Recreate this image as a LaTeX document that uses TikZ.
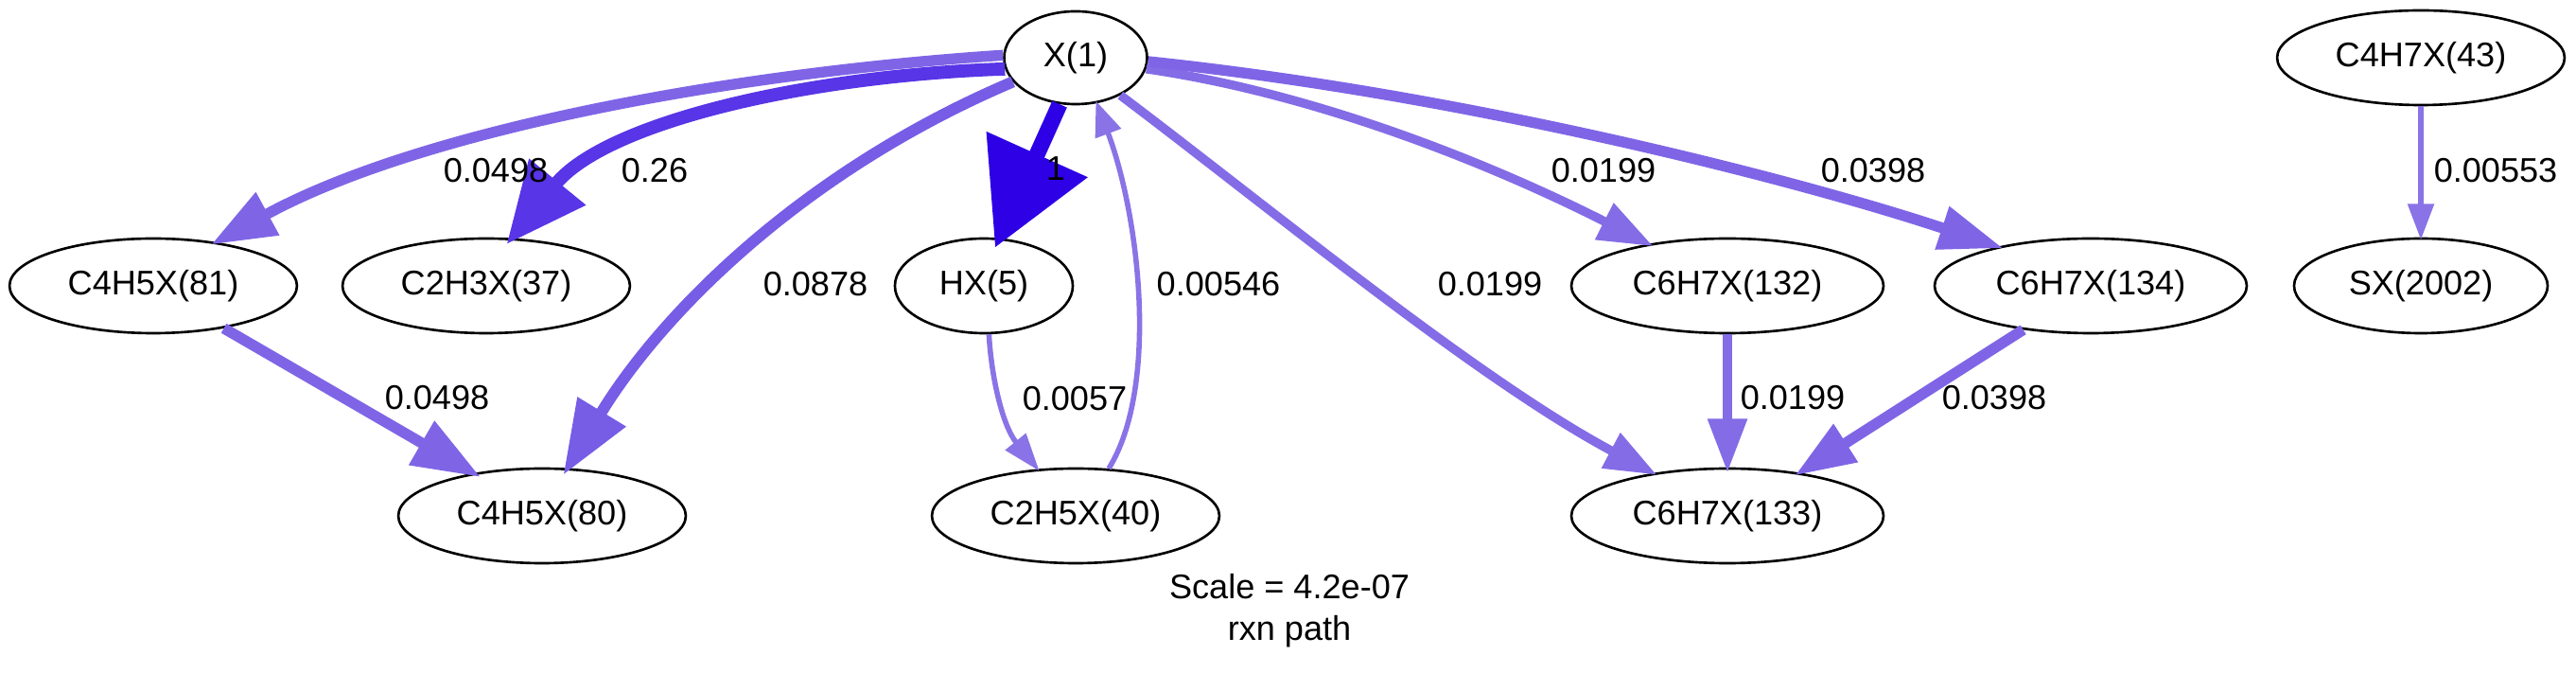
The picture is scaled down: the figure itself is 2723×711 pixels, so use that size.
\documentclass[tikz,border=0pt]{standalone}
\usepackage{fontspec}
\setmainfont{Liberation Sans}
\usetikzlibrary{shapes.geometric,arrows.meta}
\definecolor{cA}{RGB}{46,0,230}
\definecolor{cB}{RGB}{88,53,230}
\definecolor{cC}{RGB}{119,92,230}
\definecolor{cD}{RGB}{127,101,230}
\definecolor{cE}{RGB}{132,108,230}
\definecolor{cF}{RGB}{138,115,230}
\begin{document}
\begin{tikzpicture}[x=0.36pt,y=-0.36pt,
  species/.style={draw, ellipse, line width=0.95pt, inner sep=0pt,
    minimum height=36pt, font=\fontsize{13}{15}\selectfont},
  wide/.style={species, minimum width=109.4pt},
  wider/.style={species, minimum width=118.8pt},
  lbl/.style={inner sep=0pt, font=\fontsize{13}{15}\selectfont},
  fluxedge/.style={line width=#1},
  tipsz/.style 2 args={-{Triangle[length=#1pt,width=#2pt]}}
]
\useasboundingbox (0,0) rectangle (2723,711);

% species
\node[species, minimum width=54.4pt, minimum height=35.3pt] (x1) at (1137,61) {X(1)};
\node[wide] (c4h5x81) at (162,302) {C4H5X(81)};
\node[wide] (c2h3x37) at (514,302) {C2H3X(37)};
\node[species, minimum width=67.7pt] (hx5) at (1040,302) {HX(5)};
\node[wider] (c6h7x132) at (1826,302) {C6H7X(132)};
\node[wider] (c6h7x134) at (2210,302) {C6H7X(134)};
\node[species, minimum width=96.5pt] (sx2002) at (2559,302) {SX(2002)};
\node[wide] (c4h7x43) at (2559,61) {C4H7X(43)};
\node[wide] (c4h5x80) at (573,545) {C4H5X(80)};
\node[wide] (c2h5x40) at (1137,545) {C2H5X(40)};
\node[wider] (c6h7x133) at (1826,545) {C6H7X(133)};

% edges
\draw[cD, fluxedge=4.1pt, tipsz={24.5}{17.6}, shorten >=-2pt]
  (x1.178) .. controls (760,78) and (440,140) .. (c4h5x81.35);
\draw[cB, fluxedge=5pt, tipsz={30.6}{26.6}, shorten >=-3pt]
  (x1.189) .. controls (850,80) and (640,130) .. (c2h3x37.62);
\draw[cA, fluxedge=6.1pt, tipsz={38.9}{40.7}, shorten >=-4pt]
  (x1.251) -- (hx5.72);
\draw[cC, fluxedge=4.3pt, tipsz={28.1}{20.5}, shorten >=-3pt]
  (x1.201) .. controls (850,180) and (700,330) .. (c4h5x80.62);
\draw[cE, fluxedge=3.4pt, tipsz={19.8}{14.4}, shorten >=-1.5pt]
  (x1.320) .. controls (1330,210) and (1560,400) .. (c6h7x133.150);
\draw[cD, fluxedge=4.1pt, tipsz={25.9}{18.4}, shorten >=-3pt]
  (c4h5x81.329) -- (c4h5x80.148);
\draw[cF, fluxedge=2pt, tipsz={14.4}{9.7}, shorten >=-1pt]
  (hx5.276) .. controls (1048,400) and (1060,450) .. (c2h5x40.129);
\draw[cF, fluxedge=2pt, tipsz={13.3}{10.1}, shorten >=-1pt]
  (c2h5x40.55) .. controls (1225,410) and (1205,230) .. (x1.295);
\draw[cE, fluxedge=3.4pt, tipsz={20.9}{14.8}, shorten >=-2pt]
  (x1.351) .. controls (1400,100) and (1590,180) .. (c6h7x132.152);
\draw[cD, fluxedge=4.1pt, tipsz={24.5}{16.2}, shorten >=-2pt]
  (x1.357) .. controls (1550,100) and (1900,190) .. (c6h7x134.157);
\draw[cE, fluxedge=3.4pt, tipsz={20.5}{14.4}, shorten >=-2pt]
  (c6h7x132) -- (c6h7x133);
\draw[cD, fluxedge=4.1pt, tipsz={23}{16.2}, shorten >=-2pt]
  (c6h7x134.213) -- (c6h7x133.31);
\draw[cF, fluxedge=2pt, tipsz={13.7}{9.7}, shorten >=-1pt]
  (c4h7x43) -- (sx2002);

% edge labels
\node[lbl] (lA) at (524,180) {0.0498};
\node[lbl] (lB) at (692,180) {0.26};
\node[lbl] (lC) at (1116,178) {1};
\node[lbl] (lD) at (862,300) {0.0878};
\node[lbl] (lE) at (1288,300) {0.00546};
\node[lbl] (lF) at (1695,180) {0.0199};
\node[lbl] (lG) at (1980,180) {0.0398};
\node[lbl] (lH) at (2638,180) {0.00553};
\node[lbl] (lI) at (1575,300) {0.0199};
\node[lbl] (lJ) at (462,420) {0.0498};
\node[lbl] (lK) at (1136,421) {0.0057};
\node[lbl] (lL) at (1895,420) {0.0199};
\node[lbl] (lM) at (2108,420) {0.0398};

\node[lbl, align=center, font=\fontsize{13}{15.8}\selectfont] (scale) at (1363,645) {Scale = 4.2e-07\\rxn path};
\end{tikzpicture}
\end{document}
